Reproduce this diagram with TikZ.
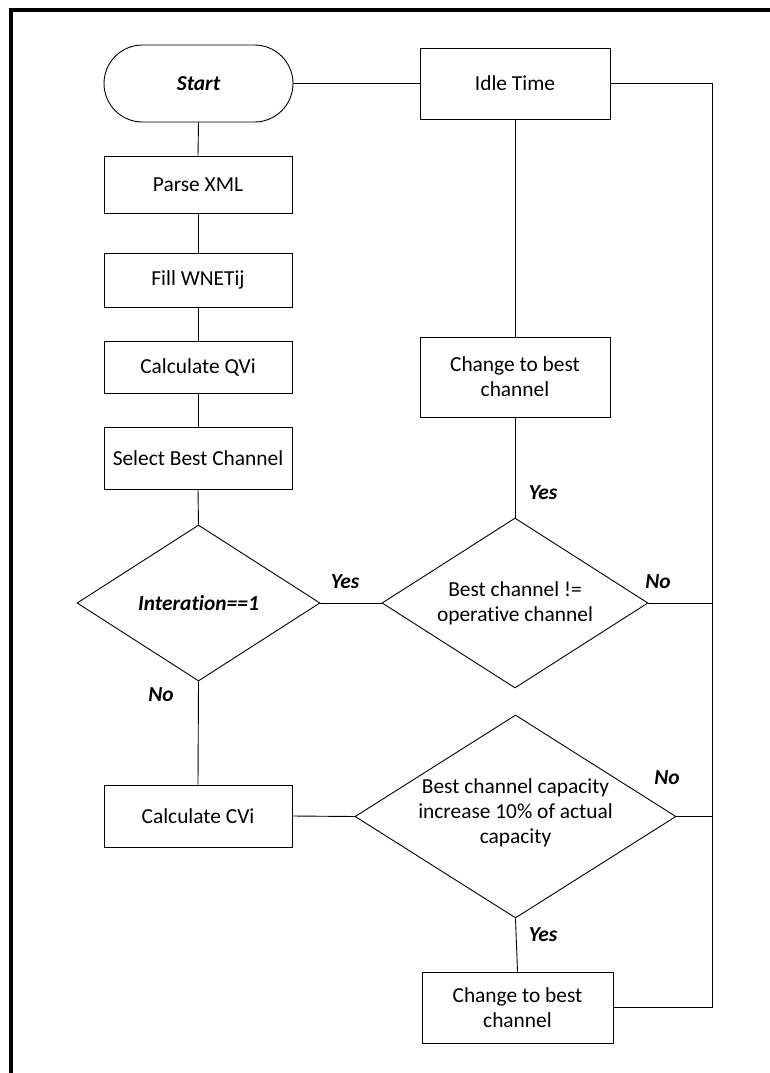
\documentclass[tikz,border=0pt]{standalone}
\usepackage{fontspec}
\setmainfont[Ligatures=NoCommon]{Carlito}
\usetikzlibrary{shapes.geometric}
\begin{document}
\begin{tikzpicture}[x=1pt,y=-1pt,
  every node/.style={font=\fontsize{21.4}{25}\selectfont},
  proc/.style={draw, line width=0.9pt, rectangle, inner sep=0pt, align=center},
  term/.style={draw, line width=0.9pt, rectangle, rounded corners=38.5pt, inner sep=0pt, font=\fontsize{21.4}{25}\selectfont\bfseries\itshape},
  decision/.style={draw, line width=0.9pt, diamond, inner sep=0pt},
  dtext/.style={align=center, inner sep=0pt},
  lab/.style={font=\fontsize{21.4}{25}\selectfont\bfseries\itshape, inner sep=0pt},
  conn/.style={line width=0.9pt}
]
\useasboundingbox (0,0) rectangle (769,1073);
% frame
\draw[line width=4pt] (10.5,1080) -- (10.5,10.5) -- (780,10.5);

% nodes
\node[term, minimum width=189pt, minimum height=77pt] (start) at (198.5,83.5) {Start};
\node[proc, minimum width=190pt, minimum height=71pt] (idle) at (515,83.5) {Idle Time};
\node[proc, minimum width=188pt, minimum height=57pt] (parse) at (198,184.5) {Parse XML};
\node[proc, minimum width=188pt, minimum height=54pt] (fill) at (198,280) {Fill WNETij};
\node[proc, minimum width=188pt, minimum height=52pt] (qvi) at (198,367) {Calculate QVi};
\node[proc, minimum width=188pt, minimum height=62pt] (sel) at (198,458) {Select Best Channel};
\node[proc, minimum width=190pt, minimum height=80pt] (chg1) at (515,377) {Change to best\\channel};

\node[decision, minimum width=243pt, minimum height=156pt] (d1) at (198.5,603) {};
\node[dtext, font=\fontsize{21.4}{25}\selectfont\bfseries\itshape] (d1t) at (d1.center) {Interation==1};
\node[decision, minimum width=266pt, minimum height=170pt] (d2) at (515,603) {};
\node[dtext] (d2t) at (d2.center) {Best channel !=\\operative channel};

\node[proc, minimum width=188pt, minimum height=62pt] (cvi) at (198,816) {Calculate CVi};
\node[decision, minimum width=321pt, minimum height=203pt] (d3) at (515.5,816.5) {};
\node[dtext] (d3t) at (515.5,813) {Best channel capacity\\increase 10\% of actual\\capacity};

\node[proc, minimum width=191pt, minimum height=71pt] (chg2) at (517.5,1007.5) {Change to best\\channel};

\coordinate (rt) at (712,83.5);
\coordinate (rb) at (712,1007.5);

% connectors
\draw[conn] (start.east) -- (idle.west);
\draw[conn] (start.south) -- (parse.north);
\draw[conn] (parse.south) -- (fill.north);
\draw[conn] (fill.south) -- (qvi.north);
\draw[conn] (qvi.south) -- (sel.north);
\draw[conn] (sel.south) -- (d1.north);
\draw[conn] (d1.east) -- (d2.west);
\draw[conn] (d1.south) -- (cvi.north);
\draw[conn] (cvi.east) -- (d3.west);
\draw[conn] (d3.south) -- (chg2.north);
\draw[conn] (d2.north) -- (chg1.south);
\draw[conn] (chg1.north) -- (idle.south);
\draw[conn] (idle.east) -- (rt) -- (rb) -- (chg2.east);
\draw[conn] (d2.east) -- (d2.east -| rt);
\draw[conn] (d3.east) -- (d3.east -| rt);

% labels
\node[lab] (y1) at (345,582) {Yes};
\node[lab] (n1) at (161,695) {No};
\node[lab] (n2) at (658,582) {No};
\node[lab] (y2) at (543,493) {Yes};
\node[lab] (n3) at (667,778) {No};
\node[lab] (y3) at (543,935) {Yes};
\end{tikzpicture}
\end{document}
